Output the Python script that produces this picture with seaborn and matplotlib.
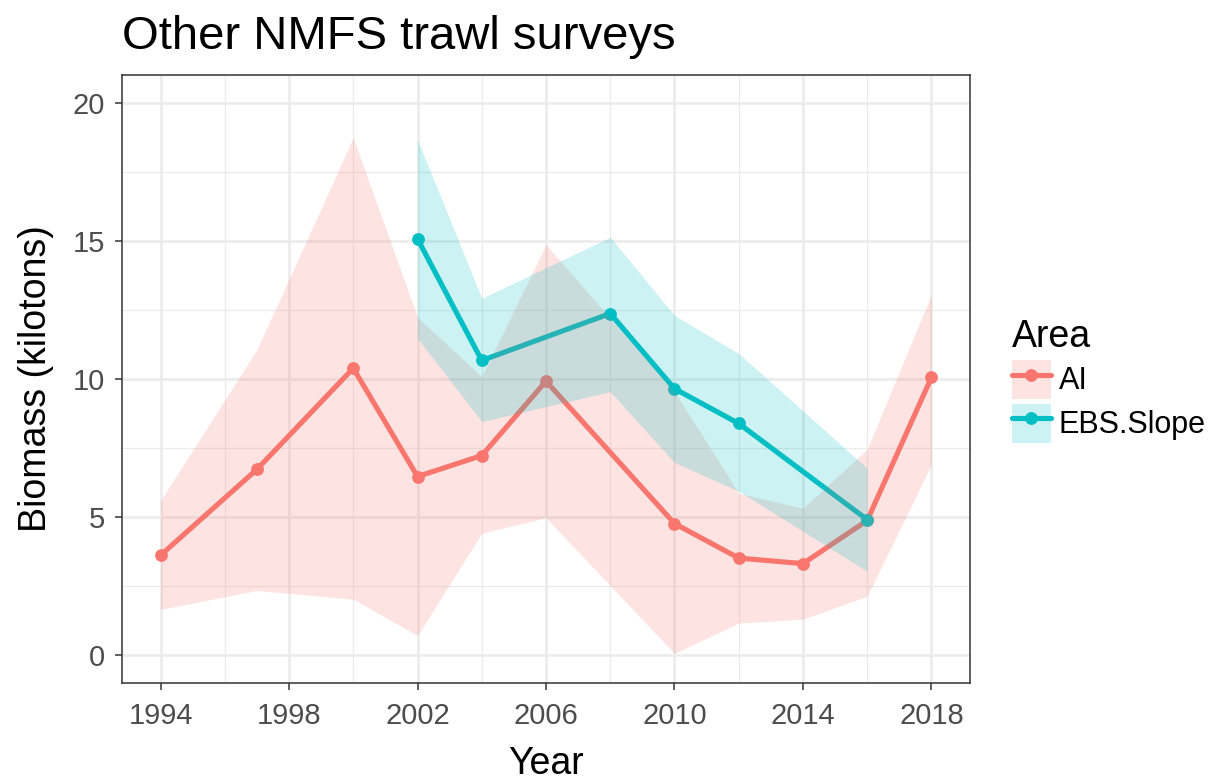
import matplotlib
matplotlib.use("Agg")
import matplotlib.pyplot as plt
from matplotlib.lines import Line2D
from matplotlib.patches import Patch
from matplotlib.legend_handler import HandlerTuple
from matplotlib.ticker import MultipleLocator
import seaborn as sns
import pandas as pd

# AI survey
ai_years = [1994, 1997, 2000, 2002, 2004, 2006, 2010, 2012, 2014, 2016, 2018]
ai_biomass = [3.62, 6.73, 10.39, 6.47, 7.23, 9.92, 4.77, 3.52, 3.32, 4.88, 10.06]
ai_lower = [1.66, 2.35, 2.03, 0.72, 4.42, 4.98, 0.07, 1.17, 1.31, 2.14, 6.91]
ai_upper = [5.60, 11.06, 18.73, 12.23, 10.09, 14.86, 9.54, 5.87, 5.32, 7.46, 13.06]

# EBS slope survey
ebs_years = [2002, 2004, 2008, 2010, 2012, 2016]
ebs_biomass = [15.07, 10.67, 12.37, 9.65, 8.39, 4.91]
ebs_lower = [11.47, 8.46, 9.54, 6.98, 5.94, 3.04]
ebs_upper = [18.66, 12.92, 15.13, 12.30, 10.92, 6.77]

areas = ["AI", "EBS.Slope"]
colors = {"AI": "#F8766D", "EBS.Slope": "#00BFC4"}

df = pd.concat([
    pd.DataFrame({"Year": ai_years, "Biomass": ai_biomass,
                  "Lower": ai_lower, "Upper": ai_upper, "Area": "AI"}),
    pd.DataFrame({"Year": ebs_years, "Biomass": ebs_biomass,
                  "Lower": ebs_lower, "Upper": ebs_upper, "Area": "EBS.Slope"}),
])

sns.set_theme(style="white")
plt.rcParams["font.family"] = ["Liberation Sans", "DejaVu Sans"]
plt.rcParams["text.color"] = "black"

W, H = 1219, 780
fig = plt.figure(figsize=(W / 100, H / 100), dpi=100)
ax = fig.add_axes([122 / W, 1 - 683 / H, (970 - 122) / W, (683 - 75) / H])

LW, MS = 3.7, 9.2

sns.lineplot(data=df, x="Year", y="Biomass", hue="Area", hue_order=areas,
             palette=colors, marker="o", markersize=MS, markeredgewidth=0,
             linewidth=LW, legend=False, ax=ax, zorder=3)

# ribbons drawn over the lines, like the ggplot layer order
for area in areas:
    sub = df[df["Area"] == area]
    ax.fill_between(sub["Year"], sub["Lower"], sub["Upper"],
                    color=colors[area], alpha=0.2, linewidth=0, zorder=4)

ax.set_xlim(1992.8, 2019.2)
ax.set_ylim(-1, 21)
ax.set_xticks(range(1994, 2019, 4))
ax.set_xticks(range(1996, 2019, 4), minor=True)
ax.yaxis.set_major_locator(MultipleLocator(5))
ax.yaxis.set_minor_locator(MultipleLocator(2.5))

ax.grid(which="major", color="#EBEBEB", linewidth=1.8, zorder=0)
ax.grid(which="minor", color="#EBEBEB", linewidth=0.9, zorder=0)
ax.set_axisbelow(True)
for s in ax.spines.values():
    s.set_color("#333333")
    s.set_linewidth(1.1)

ax.tick_params(which="major", length=5, width=1.1, color="#333333",
               labelsize=21, labelcolor="#4D4D4D",
               bottom=True, left=True)
ax.tick_params(axis="x", which="major", pad=9)
ax.tick_params(axis="y", which="major", pad=7)
ax.tick_params(which="minor", length=0)

ax.set_xlabel("Year", fontsize=27, color="black", labelpad=11)
ax.set_ylabel("Biomass (kilotons)", fontsize=27, color="black", labelpad=14)

fig.text(122 / W, 1 - 49 / H, "Other NMFS trawl surveys", fontsize=34,
         color="black", ha="left", va="baseline")

handles = []
for area in areas:
    patch = Patch(facecolor=colors[area], alpha=0.2, edgecolor="none")
    line = Line2D([], [], color=colors[area], linewidth=LW, marker="o",
                  markersize=MS, markeredgewidth=0)
    handles.append((patch, line))

leg = fig.legend(handles, areas, handler_map={tuple: HandlerTuple(ndivide=1, pad=0)},
                 loc="upper left", bbox_to_anchor=(1012 / W, 1 - 319 / H),
                 frameon=False, title="Area", title_fontsize=27, fontsize=22,
                 handlelength=1.27, handleheight=1.58, handletextpad=0.25,
                 labelspacing=0.16, borderpad=0, borderaxespad=0,
                 alignment="left", labelcolor="black")
leg.get_title().set_color("black")

fig.savefig("out.png", dpi=100)
